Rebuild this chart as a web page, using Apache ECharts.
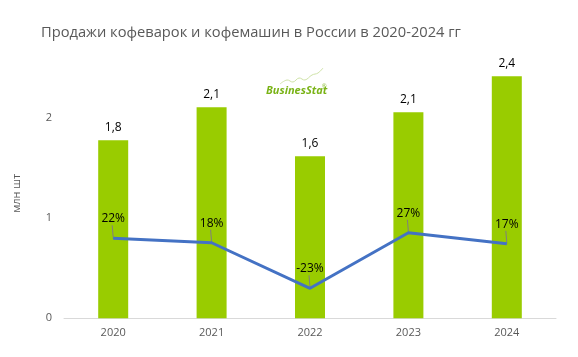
<!DOCTYPE html>
<html>
<head>
<meta charset="utf-8">
<script src="https://cdn.jsdelivr.net/npm/echarts@6/dist/echarts.min.js"></script>
<style>
html,body{margin:0;padding:0;background:#fff;}
#chart{width:578px;height:357px;}
</style>
</head>
<body>
<div id="chart"></div>
<script>
const years = ['2020', '2021', '2022', '2023', '2024'];
const sales = [1.78, 2.11, 1.62, 2.06, 2.42];
const salesLabels = ['1,8', '2,1', '1,6', '2,1', '2,4'];
const growth = [22, 18, -23, 27, 17];
const titleText = 'Продажи кофеварок и кофемашин в России в 2020-2024 гг';
const unitName = 'млн шт';

const chart = echarts.init(document.getElementById('chart'), null, {renderer: 'canvas'});
const font = '"Open Sans", "DejaVu Sans", sans-serif';
chart.setOption({
  animation: false,
  backgroundColor: '#fff',
  title: {
    text: titleText,
    left: 36, top: 20,
    textStyle: {fontFamily: font, fontSize: 14.7, fontWeight: 'normal', color: '#595959'}
  },
  grid: {left: 64, right: 22, top: 68.3, bottom: 38.7, containLabel: false},
  xAxis: {
    type: 'category',
    data: years,
    axisLine: {lineStyle: {color: '#d9d9d9', width: 1}},
    axisTick: {show: false},
    axisLabel: {color: '#595959', fontFamily: font, fontSize: 11, margin: 9}
  },
  yAxis: [{
    type: 'value',
    min: 0, max: 2.5, interval: 1,
    name: unitName,
    nameLocation: 'middle',
    nameGap: 42,
    nameRotate: 90,
    nameTextStyle: {color: '#595959', fontFamily: font, fontSize: 11},
    axisLine: {show: false},
    axisTick: {show: false},
    splitLine: {show: false},
    axisLabel: {
      color: '#595959', fontFamily: font, fontSize: 11, margin: 12,
      showMaxLabel: false,
      formatter: v => (Number.isInteger(v) ? String(v) : '')
    }
  }, {
    type: 'value',
    min: -50, max: 175,
    show: false,
    splitLine: {show: false}
  }],
  series: [{
    type: 'bar',
    data: sales,
    barWidth: 30,
    z: 2,
    itemStyle: {color: '#99cc00'},
    label: {
      show: true, position: 'top', distance: 7,
      color: '#000', fontFamily: font, fontSize: 12,
      formatter: p => salesLabels[p.dataIndex]
    }
  }, {
    type: 'custom',
    yAxisIndex: 1,
    data: growth.map((v, i) => [i, v]),
    silent: true,
    z: 5,
    renderItem: (params, api) => {
      const pt = api.coord([api.value(0), api.value(1)]);
      return {
        type: 'line',
        shape: {x1: pt[0], y1: pt[1] - 1, x2: pt[0] - 1, y2: pt[1] - 13},
        style: {stroke: '#7f7f7f', lineWidth: 1}
      };
    },
    encode: {x: 0, y: 1}
  }, {
    type: 'line',
    yAxisIndex: 1,
    data: growth,
    symbol: 'circle',
    symbolSize: 1,
    showSymbol: true,
    z: 6,
    itemStyle: {color: '#4472c4'},
    lineStyle: {color: '#4472c4', width: 3},
    label: {
      show: true, position: 'top', distance: 13,
      color: '#000', fontFamily: font, fontSize: 12,
      formatter: p => p.value + '%'
    }
  }],
  graphic: [{
    type: 'polyline',
    shape: {points: [[280, 84], [287, 80], [293, 82], [299, 78], [305, 80], [312, 75], [318, 73], [323, 68]], smooth: 0.4},
    style: {stroke: '#cfe3a8', lineWidth: 1, fill: null}
  }, {
    type: 'text',
    left: 266, top: 85,
    style: {text: 'BusinesStat', fill: '#7ab317', font: 'italic bold 11px "Open Sans", sans-serif'}
  }, {
    type: 'text',
    left: 322, top: 83,
    style: {text: '®', fill: '#7ab317', font: '6px sans-serif'}
  }]
});
</script>
</body>
</html>
